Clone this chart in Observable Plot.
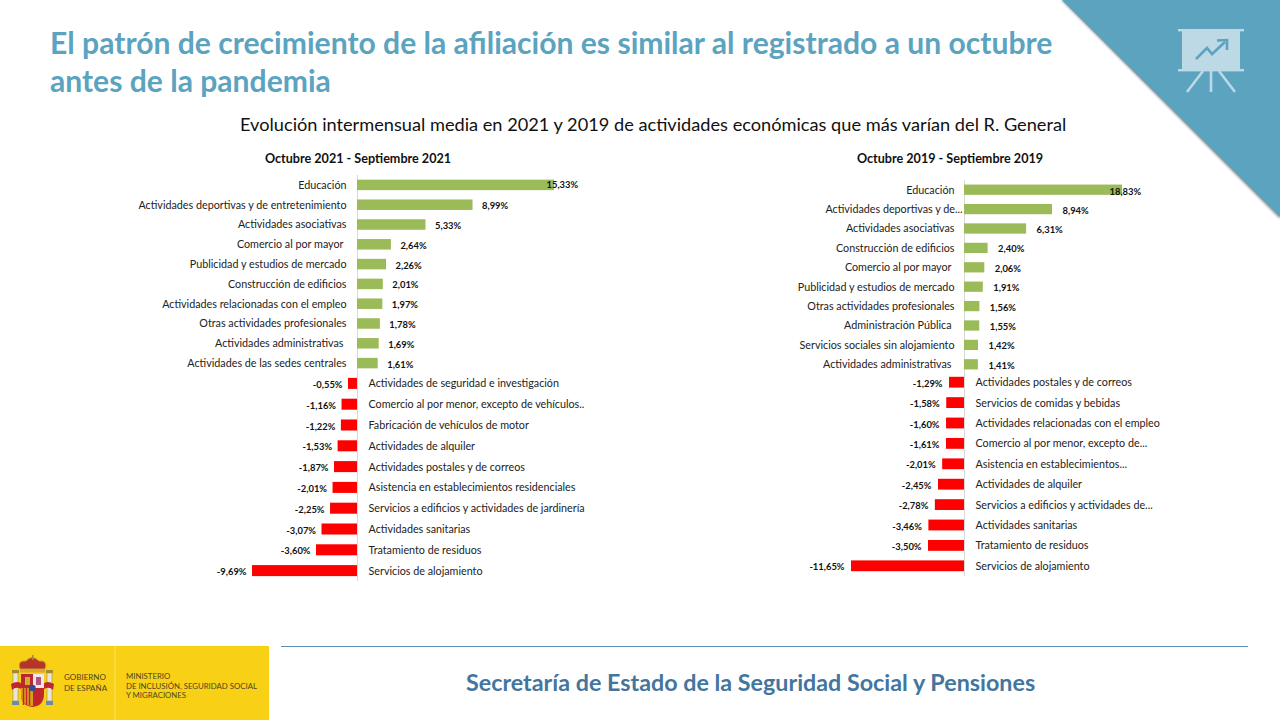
<!DOCTYPE html>
<html lang="es"><head><meta charset="utf-8">
<script src="https://cdn.jsdelivr.net/npm/d3@7"></script>
<script src="https://cdn.jsdelivr.net/npm/@observablehq/plot@0.6"></script>
<style>
html,body{margin:0;padding:0;background:#fff}
#page{position:relative;width:1280px;height:720px;overflow:hidden;font-family:Lato,sans-serif;background:#fff}
#page>*{position:absolute}
.t{white-space:nowrap;margin:0}
#title{left:50px;top:23px;font-size:30.1px;line-height:38px;font-weight:700;color:#5ba3bf}
#sub{left:240px;top:112px;font-size:18.2px;line-height:24px;color:#111}
.head{font-size:12.6px;font-weight:700;color:#111;line-height:16px;transform:translateX(-50%)}
#foot{left:466px;top:666px;font-size:23.3px;line-height:32px;font-weight:700;color:#44759e}
.plot{background:transparent}
</style></head><body>
<div id="page">
<svg style="left:0;top:0" width="1280" height="720" viewBox="0 0 1280 720">
  <defs><filter id="sh" x="-5%" y="-5%" width="110%" height="110%"><feGaussianBlur stdDeviation="1.2"/></filter></defs>
  <polygon points="1061,0 1280,219 1280,0" fill="#999" filter="url(#sh)"/>
  <polygon points="1062,0 1280,217 1280,0" fill="#5ba3bf"/>
  <g fill="#bdd9e5" stroke="none">
    <rect x="1182" y="30" width="58" height="40"/>
    <rect x="1178" y="29" width="66" height="2.4"/>
    <rect x="1178" y="69" width="66" height="2.4"/>
  </g>
  <g stroke="#bdd9e5" stroke-width="2.6" fill="none">
    <path d="M1211 71V92M1203 71L1187 92M1219 71L1235 92"/>
  </g>
  <path d="M1196 59L1207 48L1212 54L1225 42" fill="none" stroke="#5ba3bf" stroke-width="2.6"/>
  <path d="M1217 40.5L1227 40L1227 50" fill="none" stroke="#5ba3bf" stroke-width="2.6"/>
  <rect x="281" y="646" width="967" height="1" fill="#5b8db8"/>
  <rect x="0" y="646" width="269" height="74" fill="#f8d117"/>
  <rect x="114.5" y="646" width="1" height="74" fill="#fbe25a"/>
  <g>
    <rect x="13" y="673" width="5" height="28" fill="#e8e4d8" stroke="#8a8060" stroke-width=".5"/>
    <rect x="47" y="673" width="5" height="28" fill="#e8e4d8" stroke="#8a8060" stroke-width=".5"/>
    <rect x="12" y="670" width="7" height="3" fill="#a58a2e"/><rect x="46" y="670" width="7" height="3" fill="#a58a2e"/>
    <rect x="12" y="701" width="7" height="4" fill="#6f8aa6"/><rect x="46" y="701" width="7" height="4" fill="#6f8aa6"/>
    <path d="M11 684Q18 680 22 684L21 689Q16 686 12 690Z" fill="#c0272d"/>
    <path d="M54 684Q47 680 43 684L44 689Q49 686 53 690Z" fill="#c0272d"/>
    <path d="M21 674H44V694Q44 706 32.500 707Q21 706 21 694Z" fill="#c0272d"/>
    <rect x="33" y="674" width="11" height="14" fill="#f3e6e8"/>
    <rect x="21" y="674" width="12" height="14" fill="#b72b30"/>
    <rect x="25" y="677" width="5" height="8" fill="#d8a92b"/>
    <path d="M36 677h5v8h-5z" fill="#b5527a"/>
    <path d="M21 688H33V706Q21 706 21 694Z" fill="#d8a018"/>
    <path d="M23.500 688v17M26.500 688v17M29.500 688v17" stroke="#c0272d" stroke-width="1.4"/>
    <circle cx="32.500" cy="688" r="3.200" fill="#2c4f95"/>
    <path d="M20 669Q17 660 26 661Q32 654 39 661Q48 660 45 669Z" fill="#b8332b" stroke="#c39a22" stroke-width="1"/>
    <rect x="20" y="669" width="25" height="3.500" fill="#d8a92b"/>
    <rect x="32" y="655" width="1.500" height="5" fill="#a58a2e"/>
  </g>
</svg>
<h1 class="t" id="title">El patrón de crecimiento de la afiliación es similar al registrado a un octubre<br>antes de la pandemia</h1>
<p class="t" id="sub">Evolución intermensual media en 2021 y 2019 de actividades económicas que más varían del R. General</p>
<p class="t head" style="left:358px;top:151px">Octubre 2021 - Septiembre 2021</p>
<p class="t head" style="left:950px;top:151px">Octubre 2019 - Septiembre 2019</p>
<p class="t" id="foot">Secretaría de Estado de la Seguridad Social y Pensiones</p>
<p class="t" style="left:64px;top:672px;font-size:8px;line-height:10.500px;color:#4b4420">GOBIERNO<br>DE ESPAÑA</p>
<p class="t" style="left:126px;top:672px;font-size:7.8px;line-height:9.700px;color:#4b4420">MINISTERIO<br>DE INCLUSIÓN, SEGURIDAD SOCIAL<br>Y MIGRACIONES</p>
</div>
<script>
// Octubre 2021 - Septiembre 2021
const cats2021Up = ["Educación","Actividades deportivas y de entretenimiento","Actividades asociativas","Comercio al por mayor","Publicidad y estudios de mercado","Construcción de edificios","Actividades relacionadas con el empleo","Otras actividades profesionales","Actividades administrativas","Actividades de las sedes centrales"];
const vals2021Up = [15.33,8.99,5.33,2.64,2.26,2.01,1.97,1.78,1.69,1.61];
const cats2021Down = ["Actividades de seguridad e investigación","Comercio al por menor, excepto de vehículos..","Fabricación de vehículos de motor","Actividades de alquiler","Actividades postales y de correos","Asistencia en establecimientos residenciales","Servicios a edificios y actividades de jardinería","Actividades sanitarias","Tratamiento de residuos","Servicios de alojamiento"];
const vals2021Down = [-0.55,-1.16,-1.22,-1.53,-1.87,-2.01,-2.25,-3.07,-3.60,-9.69];
// Octubre 2019 - Septiembre 2019
const cats2019Up = ["Educación","Actividades deportivas y de...","Actividades asociativas","Construcción de edificios","Comercio al por mayor","Publicidad y estudios de mercado","Otras actividades profesionales","Administración Pública","Servicios sociales sin alojamiento","Actividades administrativas"];
const vals2019Up = [18.83,8.94,6.31,2.40,2.06,1.91,1.56,1.55,1.42,1.41];
const cats2019Down = ["Actividades postales y de correos","Servicios de comidas y bebidas","Actividades relacionadas con el empleo","Comercio al por menor, excepto de...","Asistencia en establecimientos...","Actividades de alquiler","Servicios a edificios y actividades de...","Actividades sanitarias","Tratamiento de residuos","Servicios de alojamiento"];
const vals2019Down = [-1.29,-1.58,-1.60,-1.61,-2.01,-2.45,-2.78,-3.46,-3.50,-11.65];

const GREEN = "#9bbb59", RED = "#ff0000", AXIS = "#d9d9d9";
const fmt = v => v.toFixed(2).replace(".", ",") + "%";
const page = document.getElementById("page");

function panel({cats, vals, fill, left, width, top, height, xDomain, xPage, labelDx, catDx, firstDx, firstDy, nudge = {}}) {
  const rows = cats.map((c, i) => ({c, v: vals[i]}));
  const up = vals[0] > 0;
  const rest = firstDx === undefined ? rows : rows.slice(1);
  const catMarks = Array.from(d3.group(rows, r => nudge[r.c] ?? 0), ([n, group]) =>
    Plot.text(group, {x: () => 0, y: "c", text: "c", dx: catDx + n, textAnchor: up ? "end" : "start", fontSize: 10.75, fill: "#222"}));
  const marks = [
    Plot.ruleX([0], {stroke: AXIS, strokeWidth: 1}),
    Plot.barX(rows, {x: "v", y: "c", fill}),
    ...catMarks,
    Plot.text(rest, {x: "v", y: "c", text: d => fmt(d.v), dx: labelDx, dy: 1, textAnchor: up ? "start" : "end", fontSize: 9.4, fontWeight: 700, fill: "#111"})
  ];
  if (firstDx !== undefined) marks.push(Plot.text(rows.slice(0, 1), {x: "v", y: "c", text: d => fmt(d.v), dx: firstDx, dy: firstDy, textAnchor: "start", fontSize: 9.4, fontWeight: 700, fill: "#111"}));
  const s = height / cats.length;
  const p = Plot.plot({
    width, height, margin: 0,
    style: {background: "transparent", fontFamily: "Lato, sans-serif", overflow: "visible"},
    x: {type: "linear", axis: null, domain: xDomain, range: xPage.map(px => px - left)},
    y: {axis: null, domain: cats, padding: 0.47, round: false, range: [-0.235 * s, height + 0.235 * s]},
    marks
  });
  p.style.position = "absolute"; p.style.left = left + "px"; p.style.top = top + "px";
  page.appendChild(p);
}

const x21 = {left: 120, width: 480, xDomain: [-9.69,-3.6,-1.87,-0.55,0,15.33], xPage: [252,316,334,348,357,554]};
const x19 = {left: 800, width: 400, xDomain: [-11.65,-3.5,-1.29,0,8.94,18.83], xPage: [851,928,949,964,1052,1122]};

panel({...x21, cats: cats2021Up, vals: vals2021Up, fill: GREEN, top: 175, height: 198, labelDx: 9, catDx: -11, firstDx: -8, firstDy: 0,
  nudge: {"Comercio al por mayor": -3, "Actividades administrativas": -3}});
panel({...x21, cats: cats2021Down, vals: vals2021Down, fill: RED, top: 373, height: 208, labelDx: -6, catDx: 11});
panel({...x19, cats: cats2019Up, vals: vals2019Up, fill: GREEN, top: 180, height: 194, labelDx: 10, catDx: -10, firstDx: -13, firstDy: 2,
  nudge: {"Actividades deportivas y de...": 8, "Comercio al por mayor": -3, "Administración Pública": -3, "Actividades administrativas": -3}});
panel({...x19, cats: cats2019Down, vals: vals2019Down, fill: RED, top: 372, height: 204, labelDx: -7, catDx: 11});
</script>
</body></html>
